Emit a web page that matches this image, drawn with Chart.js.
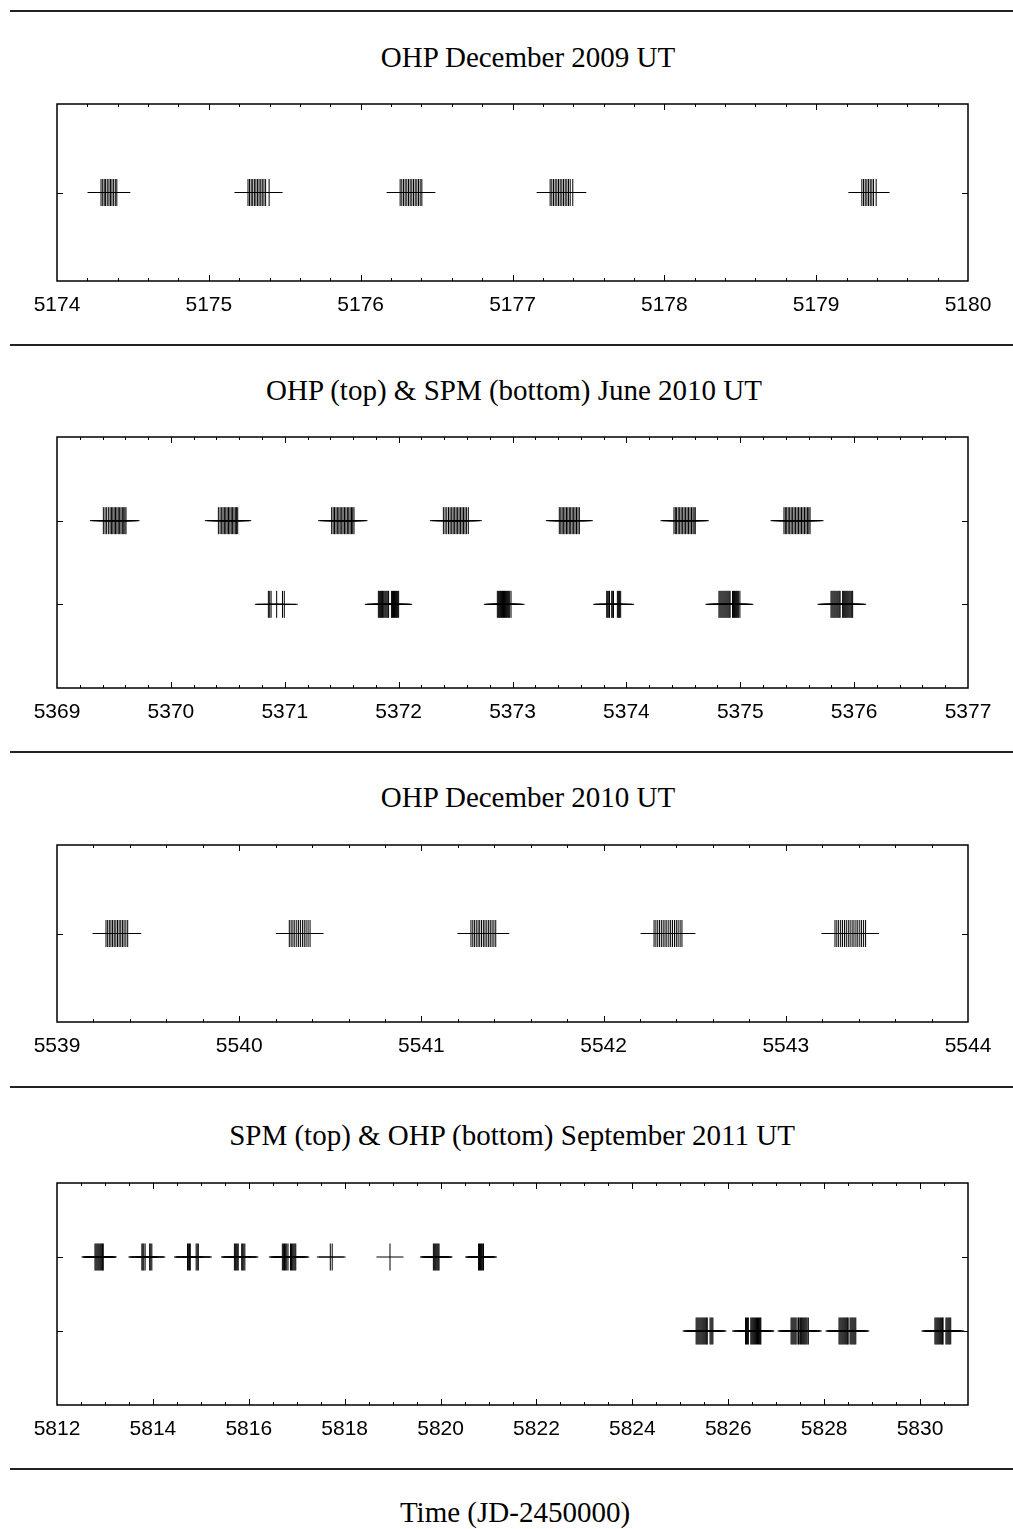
<!DOCTYPE html>
<html>
<head>
<meta charset="utf-8">
<script src="https://cdn.jsdelivr.net/npm/chart.js@4/dist/chart.umd.min.js"></script>
<style>
  html, body { margin: 0; padding: 0; background: #fff; }
  body { position: relative; width: 1013px; height: 1529px; overflow: hidden; }
  .rule { position: absolute; left: 10px; right: 0; height: 2px; background: #222; }
  .title { position: absolute; width: 1000px; height: 40px; line-height: 40px;
           text-align: center; font-family: "Liberation Serif", "DejaVu Serif", serif;
           font-size: 29px; color: #000; white-space: nowrap; }
  canvas { position: absolute; left: 0; }
</style>
</head>
<body>
<script>
// ---- Observation times (JD-2450000) ----
// OHP, December 2009
const ohpDec2009 = [
  5174.290, 5174.301, 5174.311, 5174.320, 5174.331, 5174.342, 5174.352, 5174.362, 5174.373, 5174.384, 5174.394,
  5175.258, 5175.268, 5175.279, 5175.289, 5175.300, 5175.310, 5175.321, 5175.331, 5175.342, 5175.352, 5175.363, 5175.374, 5175.397,
  5176.260, 5176.271, 5176.282, 5176.293, 5176.304, 5176.315, 5176.326, 5176.337, 5176.348, 5176.359, 5176.370, 5176.381, 5176.392, 5176.403,
  5177.248, 5177.259, 5177.270, 5177.281, 5177.292, 5177.303, 5177.314, 5177.325, 5177.336, 5177.347, 5177.358, 5177.369, 5177.380, 5177.397,
  5179.301, 5179.312, 5179.323, 5179.334, 5179.345, 5179.356, 5179.367, 5179.378, 5179.395
];
// OHP, June 2010 (upper row)
const ohpJun2010 = [
  5369.407, 5369.422, 5369.436, 5369.451, 5369.466, 5369.478, 5369.490, 5369.502, 5369.514, 5369.526, 5369.538, 5369.550, 5369.562, 5369.574, 5369.586, 5369.596, 5369.606,
  5370.417, 5370.432, 5370.446, 5370.458, 5370.470, 5370.482, 5370.494, 5370.506, 5370.518, 5370.530, 5370.542, 5370.554, 5370.566, 5370.577, 5370.587,
  5371.412, 5371.425, 5371.437, 5371.450, 5371.462, 5371.475, 5371.487, 5371.500, 5371.512, 5371.525, 5371.537, 5371.550, 5371.562, 5371.574, 5371.586, 5371.597, 5371.608,
  5372.393, 5372.408, 5372.423, 5372.438, 5372.452, 5372.466, 5372.479, 5372.492, 5372.505, 5372.518, 5372.531, 5372.544, 5372.557, 5372.570, 5372.583, 5372.597, 5372.612,
  5373.411, 5373.424, 5373.436, 5373.449, 5373.461, 5373.474, 5373.486, 5373.499, 5373.511, 5373.524, 5373.537, 5373.549, 5373.562, 5373.575, 5373.587,
  5374.418, 5374.430, 5374.441, 5374.455, 5374.468, 5374.481, 5374.494, 5374.507, 5374.520, 5374.533, 5374.546, 5374.559, 5374.572, 5374.585, 5374.595, 5374.605,
  5375.384, 5375.396, 5375.408, 5375.421, 5375.434, 5375.447, 5375.460, 5375.473, 5375.486, 5375.499, 5375.512, 5375.525, 5375.538, 5375.551, 5375.564, 5375.577, 5375.590, 5375.602, 5375.613
];
// SPM, June 2010 (lower row)
const spmJun2010 = [
  5370.856, 5370.868, 5370.880, 5370.929, 5370.980, 5370.996,
  5371.822, 5371.831, 5371.840, 5371.849, 5371.858, 5371.866, 5371.878, 5371.887, 5371.896, 5371.905, 5371.912,
  5371.937, 5371.946, 5371.955, 5371.964, 5371.973, 5371.982, 5371.991, 5372.000,
  5372.867, 5372.876, 5372.885, 5372.894, 5372.903, 5372.912, 5372.921, 5372.930, 5372.939, 5372.948, 5372.957, 5372.966, 5372.975, 5372.987,
  5373.827, 5373.836, 5373.845, 5373.852, 5373.871, 5373.880, 5373.887, 5373.921, 5373.930, 5373.939, 5373.950,
  5374.813, 5374.822, 5374.831, 5374.840, 5374.849, 5374.858, 5374.867, 5374.876, 5374.885, 5374.894, 5374.903, 5374.911,
  5374.932, 5374.941, 5374.950, 5374.959, 5374.968, 5374.977, 5374.986, 5374.997,
  5375.797, 5375.806, 5375.815, 5375.824, 5375.833, 5375.842, 5375.851, 5375.860, 5375.869, 5375.877,
  5375.899, 5375.908, 5375.917, 5375.926, 5375.935, 5375.944, 5375.953, 5375.962, 5375.971, 5375.979, 5375.987
];
// OHP, December 2010
const ohpDec2010 = [
  5539.269, 5539.278, 5539.287, 5539.296, 5539.305, 5539.314, 5539.323, 5539.332, 5539.341, 5539.350, 5539.359, 5539.368, 5539.378, 5539.388,
  5540.275, 5540.285, 5540.295, 5540.305, 5540.316, 5540.326, 5540.336, 5540.347, 5540.357, 5540.367, 5540.378, 5540.389,
  5541.272, 5541.282, 5541.291, 5541.301, 5541.311, 5541.320, 5541.330, 5541.340, 5541.349, 5541.359, 5541.369, 5541.378, 5541.388, 5541.398, 5541.408,
  5542.277, 5542.287, 5542.297, 5542.307, 5542.317, 5542.327, 5542.337, 5542.347, 5542.358, 5542.368, 5542.378, 5542.389, 5542.399, 5542.409, 5542.420, 5542.430,
  5543.270, 5543.280, 5543.290, 5543.301, 5543.311, 5543.322, 5543.332, 5543.343, 5543.353, 5543.364, 5543.374, 5543.385, 5543.395, 5543.406, 5543.416, 5543.427, 5543.438
];
// SPM, September 2011 (upper row)
const spmSep2011 = [
  5812.792, 5812.812, 5812.832, 5812.852, 5812.872, 5812.892, 5812.912, 5812.932, 5812.950, 5812.965,
  5813.770, 5813.790, 5813.810, 5813.838, 5813.932, 5813.955, 5813.978,
  5814.722, 5814.745, 5814.765, 5814.780, 5814.902, 5814.925, 5814.948,
  5815.700, 5815.720, 5815.740, 5815.760, 5815.780, 5815.852, 5815.872, 5815.895, 5815.918,
  5816.700, 5816.722, 5816.745, 5816.768, 5816.792, 5816.818, 5816.870, 5816.892, 5816.915, 5816.938, 5816.960, 5816.980,
  5817.700, 5817.740,
  5818.945,
  5819.850, 5819.870, 5819.890, 5819.910, 5819.930, 5819.950, 5819.968,
  5820.792, 5820.812, 5820.832, 5820.852, 5820.872, 5820.895
];
// OHP, September 2011 (lower row)
const ohpSep2011 = [
  5825.330, 5825.350, 5825.370, 5825.390, 5825.410, 5825.430, 5825.450, 5825.470, 5825.490, 5825.510, 5825.530, 5825.550, 5825.562,
  5825.620, 5825.640, 5825.660, 5825.680,
  5826.360, 5826.380, 5826.400, 5826.420, 5826.470, 5826.490, 5826.510, 5826.530, 5826.550, 5826.570, 5826.590, 5826.610, 5826.630, 5826.650, 5826.668, 5826.680,
  5827.310, 5827.330, 5827.350, 5827.370, 5827.390, 5827.410, 5827.435, 5827.465, 5827.480, 5827.505, 5827.525, 5827.545, 5827.565, 5827.585, 5827.605, 5827.625, 5827.645, 5827.670,
  5828.310, 5828.330, 5828.350, 5828.370, 5828.390, 5828.410, 5828.430, 5828.450, 5828.470, 5828.490, 5828.500,
  5828.540, 5828.560, 5828.580, 5828.600, 5828.620, 5828.640, 5828.660,
  5830.310, 5830.330, 5830.350, 5830.370, 5830.390, 5830.410, 5830.430, 5830.450, 5830.470, 5830.480,
  5830.540, 5830.560, 5830.580, 5830.600, 5830.620, 5830.640
];

// ---- Axis tick labels ----
const ticksDec2009 = [5174, 5175, 5176, 5177, 5178, 5179, 5180];
const ticksJun2010 = [5369, 5370, 5371, 5372, 5373, 5374, 5375, 5376, 5377];
const ticksDec2010 = [5539, 5540, 5541, 5542, 5543, 5544];
const ticksSep2011 = [5812, 5814, 5816, 5818, 5820, 5822, 5824, 5826, 5828, 5830];

// ---- Titles ----
const titleDec2009 = 'OHP December 2009 UT';
const titleJun2010 = 'OHP (top) & SPM (bottom) June 2010 UT';
const titleDec2010 = 'OHP December 2010 UT';
const titleSep2011 = 'SPM (top) & OHP (bottom) September 2011 UT';
const axisTitle = 'Time (JD-2450000)';

// ---- Page layout ----
const rules = [10, 344, 751, 1086, 1468];
const panels = [
  { title: titleDec2009, titleX: 528, titleY: 57,   top: 104,  bottom: 281,  xMin: 5174, xMax: 5180, minor: 0.2,
    ticks: ticksDec2009, yMax: 2, rows: [{ data: ohpDec2009, level: 1 }] },
  { title: titleJun2010, titleX: 514, titleY: 390,  top: 437,  bottom: 688,  xMin: 5369, xMax: 5377, minor: 0.2,
    ticks: ticksJun2010, yMax: 3, rows: [{ data: ohpJun2010, level: 2 }, { data: spmJun2010, level: 1 }] },
  { title: titleDec2010, titleX: 528, titleY: 797,  top: 845,  bottom: 1022, xMin: 5539, xMax: 5544, minor: 0.2,
    ticks: ticksDec2010, yMax: 2, rows: [{ data: ohpDec2010, level: 1 }] },
  { title: titleSep2011, titleX: 512, titleY: 1135, top: 1183, bottom: 1405, xMin: 5812, xMax: 5831, minor: 0.5,
    ticks: ticksSep2011, yMax: 3, rows: [{ data: spmSep2011, level: 2 }, { data: ohpSep2011, level: 1 }] }
];
const axisTitleX = 515, axisTitleY = 1512;

const PAD_TOP = 10, AXIS_H = 40, LEFT = 57, RIGHT = 968, W = 1013;

function addDiv(cls, cx, cy, text) {
  const d = document.createElement('div');
  d.className = cls;
  if (cls === 'title') {
    d.style.left = (cx - 500) + 'px';
    d.style.top = (cy - 20) + 'px';
  } else {
    d.style.top = cy + 'px';
  }
  if (text) d.textContent = text;
  document.body.appendChild(d);
}
rules.forEach(y => addDiv('rule', 0, y));
panels.forEach(p => addDiv('title', p.titleX, p.titleY, p.title));
addDiv('title', axisTitleX, axisTitleY, axisTitle);

// Box frame, inward ticks on all sides, and row markers on the y edges
const frameTicks = {
  id: 'frameTicks',
  afterDatasetsDraw(chart, args, opts) {
    const { ctx, chartArea: a, scales: { x, y } } = chart;
    ctx.save();
    ctx.strokeStyle = '#000';
    ctx.lineWidth = 1;
    ctx.beginPath();
    const n = Math.round((opts.max - opts.min) / opts.minor);
    for (let i = 1; i < n; i++) {
      const v = opts.min + i * opts.minor;
      const px = Math.round(x.getPixelForValue(v)) + 0.5;
      const isMajor = opts.ticks.some(t => Math.abs(t - v) < 1e-6);
      const len = isMajor ? 6 : 3;
      ctx.moveTo(px, a.top); ctx.lineTo(px, a.top + len);
      ctx.moveTo(px, a.bottom); ctx.lineTo(px, a.bottom - len);
    }
    opts.levels.forEach(l => {
      const py = Math.round(y.getPixelForValue(l)) + 0.5;
      ctx.moveTo(a.left, py); ctx.lineTo(a.left + 6, py);
      ctx.moveTo(a.right, py); ctx.lineTo(a.right - 6, py);
    });
    ctx.stroke();
    ctx.lineWidth = 1.5;
    ctx.strokeRect(a.left, a.top, a.right - a.left, a.bottom - a.top);
    ctx.restore();
  }
};

panels.forEach(p => {
  const h = (p.bottom - p.top) + PAD_TOP + AXIS_H;
  const cv = document.createElement('canvas');
  cv.width = W; cv.height = h;
  cv.style.top = (p.top - PAD_TOP) + 'px';
  cv.style.width = W + 'px'; cv.style.height = h + 'px';
  document.body.appendChild(cv);

  new Chart(cv, {
    type: 'scatter',
    data: {
      datasets: p.rows.map(r => ({
        data: r.data.map(t => ({ x: t, y: r.level })),
        pointStyle: 'cross',
        pointRadius: 13.5,
        pointHoverRadius: 13.5,
        pointBorderWidth: 1,
        borderColor: '#000',
        backgroundColor: '#000',
        showLine: false
      }))
    },
    options: {
      responsive: false,
      animation: false,
      devicePixelRatio: 1,
      layout: { autoPadding: false, padding: { left: LEFT, right: W - RIGHT, top: PAD_TOP, bottom: 0 } },
      plugins: {
        legend: { display: false },
        tooltip: { enabled: false },
        frameTicks: { min: p.xMin, max: p.xMax, minor: p.minor, ticks: p.ticks, levels: p.rows.map(r => r.level) }
      },
      scales: {
        x: {
          type: 'linear', min: p.xMin, max: p.xMax, position: 'bottom',
          grid: { display: false, drawTicks: false },
          border: { display: false },
          afterBuildTicks: s => { s.ticks = p.ticks.map(v => ({ value: v })); },
          afterFit: s => { s.height = AXIS_H; },
          ticks: {
            padding: 12, color: '#000', maxRotation: 0, autoSkip: false,
            font: { family: '"Liberation Sans", Arial, sans-serif', size: 21 },
            callback: v => String(v)
          }
        },
        y: { min: 0, max: p.yMax, display: false }
      }
    },
    plugins: [frameTicks]
  });
});
</script>
</body>
</html>
